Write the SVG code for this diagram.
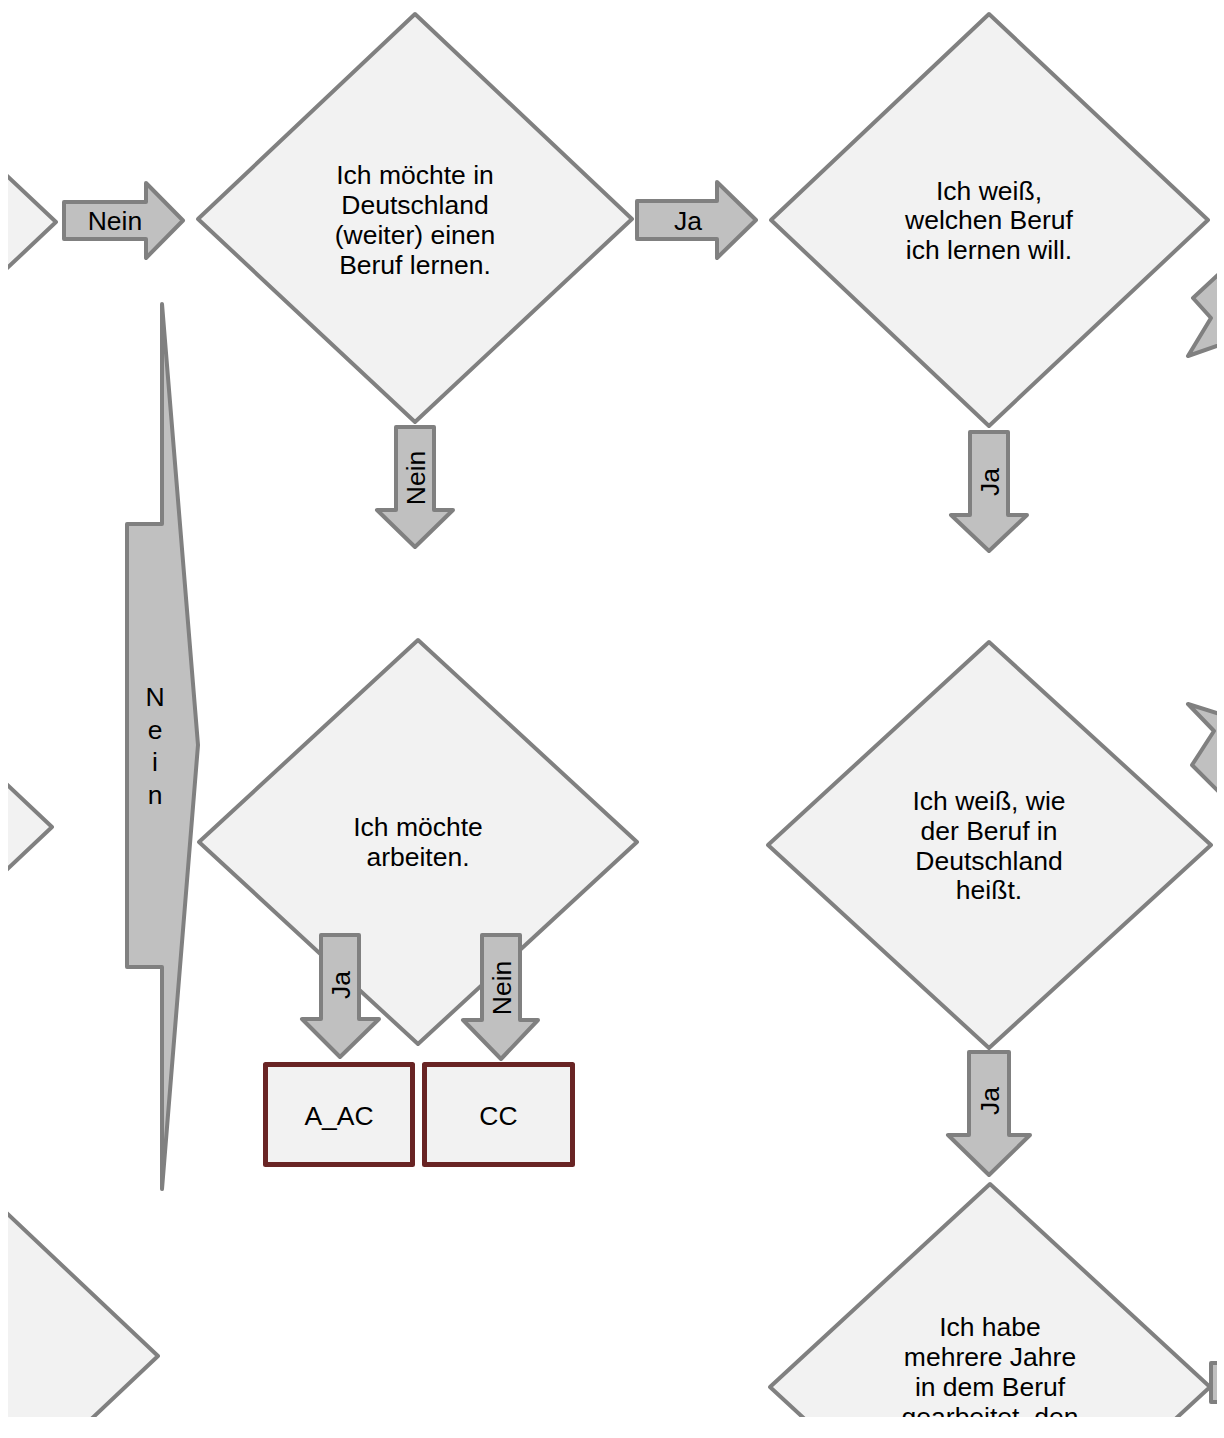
<svg xmlns="http://www.w3.org/2000/svg" width="1224" height="1438" viewBox="0 0 1224 1438">
<defs>
<clipPath id="page"><rect x="8" y="0" width="1209" height="1417"/></clipPath>
<style>
.dia{fill:#f2f2f2;stroke:#808080;stroke-width:4;stroke-linejoin:round}
.arr{fill:#c0c0c0;stroke:#808080;stroke-width:4;stroke-linejoin:round}
.box{fill:#f2f2f2;stroke:#692424;stroke-width:5;stroke-linejoin:round}
.t{font-family:"Liberation Sans",Arial,sans-serif;font-size:26.5px;fill:#000;text-anchor:middle}
</style>
</defs>
<rect width="1224" height="1438" fill="#fff"/>
<g clip-path="url(#page)">
<g id="nodes">
<g id="d-left-top"><polygon class="dia" points="-161,17 56,222 -161,427 -378,222"/></g>
<g id="d-left-mid"><polygon class="dia" points="-165,622 52,827 -165,1032 -382,827"/></g>
<g id="d-left-bot"><polygon class="dia" points="-59,1151 158,1356 -59,1561 -276,1356"/></g>
<g id="d1"><polygon class="dia" points="415,14 632,219 415,422 198,219"/>
<text class="t"><tspan x="415" y="183.5">Ich möchte in</tspan><tspan x="415" y="213.5">Deutschland</tspan><tspan x="415" y="243.5">(weiter) einen</tspan><tspan x="415" y="273.5">Beruf lernen.</tspan></text></g>
<g id="d2"><polygon class="dia" points="989,14 1208,220 989,426 771,220"/>
<text class="t"><tspan x="989" y="200">Ich weiß,</tspan><tspan x="989" y="229">welchen Beruf</tspan><tspan x="989" y="259">ich lernen will.</tspan></text></g>
<g id="d3"><polygon class="dia" points="418,640 637,842 418,1044 199,842"/>
<text class="t"><tspan x="418" y="836">Ich möchte</tspan><tspan x="418" y="866">arbeiten.</tspan></text></g>
<g id="d4"><polygon class="dia" points="989,642 1211,845 989,1048 768,845"/>
<text class="t"><tspan x="989" y="810">Ich weiß, wie</tspan><tspan x="989" y="840">der Beruf in</tspan><tspan x="989" y="870">Deutschland</tspan><tspan x="989" y="899">heißt.</tspan></text></g>
<g id="d5"><polygon class="dia" points="990,1184 1210,1387 990,1590 770,1387"/>
<text class="t"><tspan x="990" y="1336">Ich habe</tspan><tspan x="990" y="1366">mehrere Jahre</tspan><tspan x="990" y="1396">in dem Beruf</tspan><tspan x="990" y="1426">gearbeitet, den</tspan></text></g>
<g id="b-aac"><rect class="box" x="265.5" y="1064.5" width="147" height="100"/><text class="t" x="339" y="1124.5">A_AC</text></g>
<g id="b-cc"><rect class="box" x="424.5" y="1064.5" width="148" height="100"/><text class="t" x="498.5" y="1124.5">CC</text></g>
</g>
<g id="connectors">
<g><polygon class="arr" points="64,202 146,202 146,183 183,220.5 146,258 146,239 64,239"/><text class="t" x="115" y="229.5">Nein</text></g>
<g><polygon class="arr" points="637,201 717,201 717,182 756,220 717,258 717,239 637,239"/><text class="t" x="688" y="229.5">Ja</text></g>
<g><polygon class="arr" points="396,427 434,427 434,510 453,510 415,547 377,510 396,510"/><text class="t" transform="translate(424.5,478) rotate(-90)">Nein</text></g>
<g><polygon class="arr" points="970,432 1008,432 1008,515 1027,515 989,551 951,515 970,515"/><text class="t" transform="translate(998.5,482) rotate(-90)">Ja</text></g>
<g><polygon class="arr" points="969,1052 1009,1052 1009,1135 1030,1135 989,1175 948,1135 969,1135"/><text class="t" transform="translate(998.5,1101) rotate(-90)">Ja</text></g>
<g><polygon class="arr" points="321,935 359,935 359,1019 379,1019 340,1057 302,1019 321,1019"/><text class="t" transform="translate(350,985) rotate(-90)">Ja</text></g>
<g><polygon class="arr" points="482,935 520,935 520,1020 538,1020 501,1059 463,1020 482,1020"/><text class="t" transform="translate(510.5,988) rotate(-90)">Nein</text></g>
<g><polygon class="arr" points="162,304 198,745 162,1189 162,967 127,967 127,524 162,524"/><text class="t"><tspan x="155" y="706">N</tspan><tspan x="155" y="738.5">e</tspan><tspan x="155" y="771">i</tspan><tspan x="155" y="803.5">n</tspan></text></g>
<g><polygon class="arr" points="1245,250 1193,298 1211,318 1188,356 1245,336"/></g>
<g><polygon class="arr" points="1188,704 1245,722 1260,770 1245,818 1192,765 1214,731"/></g>
<g><polygon class="arr" points="1211,1363 1245,1363 1245,1402 1211,1402"/></g>
</g>
</g>
</svg>
